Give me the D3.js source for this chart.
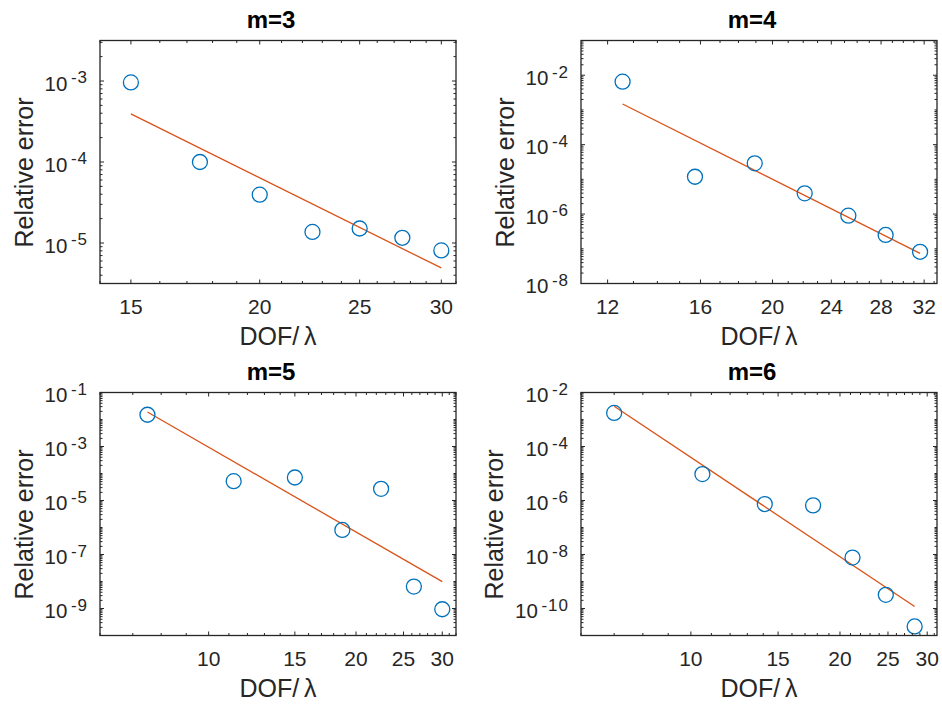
<!DOCTYPE html>
<html>
<head>
<meta charset="utf-8">
<script src="https://cdn.jsdelivr.net/npm/d3@7"></script>
<style>
  html, body { margin: 0; padding: 0; background: #fff; }
  svg { display: block; }
  text { font-family: "Liberation Sans", Arial, Helvetica, sans-serif; fill: #262626; }
</style>
</head>
<body>
<svg id="chart" width="942" height="705"></svg>
<script>
// ---------- data ----------
const titles = ["m=3", "m=4", "m=5", "m=6"];
const xLabel = "DOF/\u2009\u03BB";
const yLabel = "Relative error";

// m=3
const dof3 = [15, 17.5, 20, 22.5, 25, 27.5, 30];
const err3 = [9.6e-4, 1.0e-4, 3.95e-5, 1.37e-5, 1.51e-5, 1.16e-5, 8.1e-6];
const fitX3 = [15, 30];
const fitY3 = [3.93e-4, 4.92e-6];
const xTicks3 = [15, 20, 25, 30];
const yTicks3 = [1e-5, 1e-4, 1e-3];
const xDom3 = [14, 31];
const yDom3 = [Math.pow(10, -5.5), Math.pow(10, -2.5)];

// m=4
const dof4 = [12.57, 15.73, 18.93, 22.1, 25.3, 28.4, 31.6];
const err4 = [6.5e-3, 1.19e-5, 2.9e-5, 3.96e-6, 9.0e-7, 2.5e-7, 8.2e-8];
const fitX4 = [12.57, 31.6];
const fitY4 = [1.48e-3, 7.4e-8];
const xTicks4 = [12, 16, 20, 24, 28, 32];
const yTicks4 = [1e-8, 1e-6, 1e-4, 1e-2];
const xDom4 = [11.05, 33.3];
const yDom4 = [1e-8, 1e-1];

// m=5
const dof5 = [7.5, 11.25, 15, 18.75, 22.5, 26.25, 30];
const err5 = [1.5e-2, 5.2e-5, 7.1e-5, 8.1e-7, 2.7e-5, 6.5e-9, 9.4e-10];
const fitX5 = [7.5, 30];
const fitY5 = [1.9e-2, 9.9e-9];
const xTicks5 = [10, 15, 20, 25, 30];
const yTicks5 = [1e-9, 1e-7, 1e-5, 1e-3, 1e-1];
const xDom5 = [6, 32];
const yDom5 = [1e-10, 1e-1];

// m=6
const dof6 = [7.0, 10.55, 14.1, 17.65, 21.2, 24.75, 28.3];
const err6 = [1.75e-3, 9.5e-6, 7.4e-7, 6.6e-7, 7.7e-9, 3.2e-10, 2.16e-11];
const fitX6 = [7.0, 28.3];
const fitY6 = [3.09e-3, 1.18e-10];
const xTicks6 = [10, 15, 20, 25, 30];
const yTicks6 = [1e-10, 1e-8, 1e-6, 1e-4, 1e-2];
const xDom6 = [6, 31.4];
const yDom6 = [1e-11, 1e-2];

// ---------- layout ----------
const BLUE = "#0072BD", ORANGE = "#D95319", AX = "#262626";
const lefts = [100, 581], tops = [40.5, 392.5];
const W = 356, H = 243;
const MAJ = 4, MIN = 2.5;

const panels = [
  {title: titles[0], x: dof3, y: err3, fx: fitX3, fy: fitY3, xt: xTicks3, yt: yTicks3, xd: xDom3, yd: yDom3, col: 0, row: 0},
  {title: titles[1], x: dof4, y: err4, fx: fitX4, fy: fitY4, xt: xTicks4, yt: yTicks4, xd: xDom4, yd: yDom4, col: 1, row: 0},
  {title: titles[2], x: dof5, y: err5, fx: fitX5, fy: fitY5, xt: xTicks5, yt: yTicks5, xd: xDom5, yd: yDom5, col: 0, row: 1},
  {title: titles[3], x: dof6, y: err6, fx: fitX6, fy: fitY6, xt: xTicks6, yt: yTicks6, xd: xDom6, yd: yDom6, col: 1, row: 1},
];

const svg = d3.select("#chart");

panels.forEach(p => {
  const L = lefts[p.col], T = tops[p.row];
  const g = svg.append("g").attr("transform", `translate(${L},${T})`);
  const xs = d3.scaleLog().domain(p.xd).range([0, W]);
  const ys = d3.scaleLog().domain(p.yd).range([H, 0]);

  const xMinor = d3.range(Math.ceil(p.xd[0]), Math.floor(p.xd[1]) + 1).filter(v => !p.xt.includes(v));
  const yMinor = [];
  const e0 = Math.floor(Math.log10(p.yd[0])), e1 = Math.ceil(Math.log10(p.yd[1]));
  for (let e = e0; e <= e1; e++) {
    for (let k = 1; k <= 9; k++) {
      const v = k * Math.pow(10, e);
      if (v >= p.yd[0] * 0.9999 && v <= p.yd[1] * 1.0001 && !p.yt.some(t => Math.abs(t - v) / v < 1e-6)) yMinor.push(v);
    }
  }

  const clipId = "clip" + p.col + p.row;
  g.append("clipPath").attr("id", clipId).append("rect").attr("width", W).attr("height", H);
  const dl = g.append("g").attr("clip-path", `url(#${clipId})`);
  dl.append("path")
    .datum(p.fx.map((v, i) => [v, p.fy[i]]))
    .attr("d", d3.line().x(d => xs(d[0])).y(d => ys(d[1])))
    .attr("fill", "none").attr("stroke", ORANGE).attr("stroke-width", 1.3);
  dl.selectAll("circle").data(p.x.map((v, i) => [v, p.y[i]])).join("circle")
    .attr("cx", d => xs(d[0])).attr("cy", d => ys(d[1])).attr("r", 7.5)
    .attr("fill", "none").attr("stroke", BLUE).attr("stroke-width", 1.3);

  const tk = g.append("g").attr("stroke", AX).attr("stroke-width", 1);
  const addX = (vals, len) => vals.forEach(v => {
    const X = xs(v);
    tk.append("line").attr("x1", X).attr("x2", X).attr("y1", H).attr("y2", H - len);
    tk.append("line").attr("x1", X).attr("x2", X).attr("y1", 0).attr("y2", len);
  });
  const addY = (vals, len) => vals.forEach(v => {
    const Y = ys(v);
    tk.append("line").attr("y1", Y).attr("y2", Y).attr("x1", 0).attr("x2", len);
    tk.append("line").attr("y1", Y).attr("y2", Y).attr("x1", W).attr("x2", W - len);
  });
  addX(p.xt, MAJ); addX(xMinor, MIN);
  addY(p.yt, MAJ); addY(yMinor, MIN);

  g.append("rect").attr("width", W).attr("height", H)
    .attr("fill", "none").attr("stroke", AX).attr("stroke-width", 1.3);

  p.xt.forEach(v => {
    g.append("text").attr("x", xs(v)).attr("y", H + 30.5)
      .attr("text-anchor", "middle").attr("font-size", 21).text(v);
  });

  const ylabs = [];
  p.yt.forEach(v => {
    const e = Math.round(Math.log10(v));
    const t = g.append("text").attr("x", -12).attr("y", ys(v) + 9.7)
      .attr("text-anchor", "end").attr("font-size", 20.5);
    t.append("tspan").text("10");
    t.append("tspan").attr("dx", 3.5).attr("dy", -7.4).attr("font-size", 17)
      .attr("letter-spacing", 1).text("-" + Math.abs(e));
    ylabs.push(t);
  });
  let minLeft = 0;
  ylabs.forEach(t => { const b = t.node().getBBox(); minLeft = Math.min(minLeft, b.x); });

  g.append("text").attr("x", W / 2).attr("y", H + 61.5)
    .attr("text-anchor", "middle").attr("font-size", 25).text(xLabel);
  g.append("text")
    .attr("transform", `translate(${minLeft - 12},${H / 2 + 10.5}) rotate(-90)`)
    .attr("text-anchor", "middle").attr("font-size", 25).text(yLabel);

  g.append("text").attr("x", W / 2 - 7).attr("y", -12.2)
    .attr("text-anchor", "middle").attr("font-size", 24).attr("font-weight", "bold")
    .style("fill", "#000").text(p.title);
});
</script>
</body>
</html>
